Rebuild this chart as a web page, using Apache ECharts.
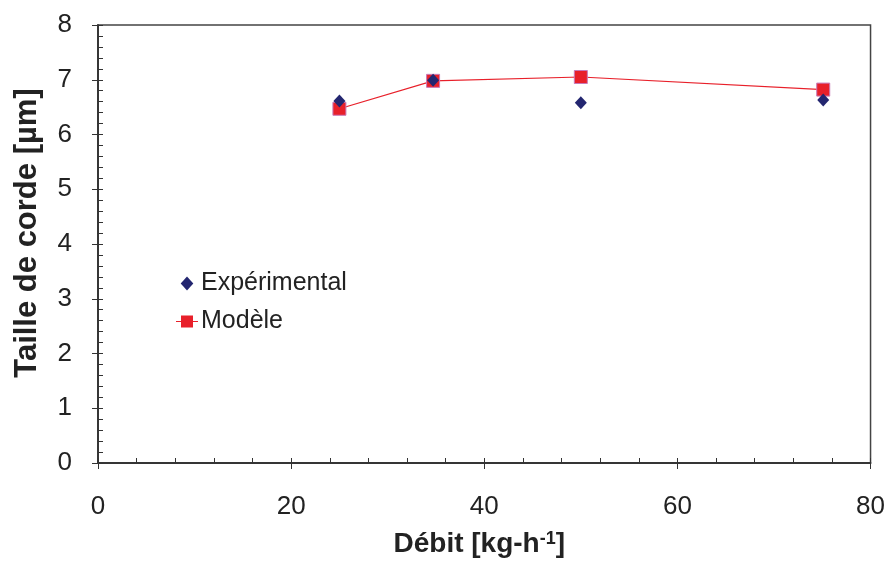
<!DOCTYPE html>
<html><head><meta charset="utf-8">
<script src="https://cdn.jsdelivr.net/npm/echarts@6/dist/echarts.min.js"></script>
<style>html,body{margin:0;padding:0;background:#fff}#c{width:888px;height:563px}</style>
</head><body><div id="c"></div>
<script>
const xExp = [25, 34.7, 50, 75.1];
const yExp = [6.61, 6.99, 6.58, 6.63];
const xMod = [25, 34.7, 50, 75.1];
const yMod = [6.47, 6.98, 7.05, 6.82];
const xTicks = [0, 20, 40, 60, 80];
const yTicks = [0, 1, 2, 3, 4, 5, 6, 7, 8];

const chart = echarts.init(document.getElementById('c'));
const font = 'Liberation Sans, Arial, sans-serif';
const axisCol = '#333';
const baseX = {
  type: 'value', min: 0, max: 80, interval: 20, position: 'bottom',
  axisLine: {lineStyle: {color: axisCol, width: 1.5}},
  splitLine: {show: false}
};
const baseY = {
  type: 'value', min: 0, max: 8, interval: 1, position: 'left',
  axisLine: {lineStyle: {color: axisCol, width: 1.5}},
  splitLine: {show: false}
};
chart.setOption({
  animation: false,
  grid: {left: 98, right: 17, top: 25, bottom: 99, show: true, borderColor: '#444', borderWidth: 1.5, backgroundColor: 'transparent'},
  legend: {
    orient: 'vertical', left: 171, top: 266, itemGap: 13,
    itemWidth: 22, itemHeight: 14,
    textStyle: {fontFamily: font, fontSize: 25, color: '#222', padding: [0, 0, 0, -2]},
    data: [
      {name: 'Expérimental', icon: 'path://M0,-1L0.9,0L0,1L-0.9,0Z', itemStyle: {borderWidth: 0}},
      {name: 'Modèle', icon: 'path://M0,6.4H22V7.6H0Z M5,1H17V13H5Z', itemStyle: {borderWidth: 0}}
    ]
  },
  xAxis: [
    Object.assign({}, baseX, {
      axisTick: {inside: true, length: 5, lineStyle: {color: axisCol}},
      minorTick: {show: true, splitNumber: 5, length: 5, lineStyle: {color: axisCol}},
      axisLabel: {fontFamily: font, fontSize: 26, color: '#222', margin: 31, formatter: v => xTicks.includes(v) ? String(v) : ''},
      name: '{a|Débit [kg-h}{s|-1}{a|]}', nameLocation: 'middle', nameGap: 67,
      nameTextStyle: {padding: [0, 10, 0, 0], rich: {
        a: {fontFamily: font, fontSize: 28, fontWeight: 'bold', color: '#222'},
        s: {fontFamily: font, fontSize: 18, fontWeight: 'bold', color: '#222', verticalAlign: 'top', padding: [0,0,10,0]}
      }}
    }),
    Object.assign({}, baseX, {
      axisTick: {inside: false, length: 6, lineStyle: {color: axisCol}},
      axisLabel: {show: false}
    })
  ],
  yAxis: [
    Object.assign({}, baseY, {
      axisTick: {inside: true, length: 5, lineStyle: {color: axisCol}},
      minorTick: {show: true, splitNumber: 5, length: 5, lineStyle: {color: axisCol}},
      axisLabel: {fontFamily: font, fontSize: 26, color: '#222', margin: 26, formatter: v => yTicks.includes(v) ? String(v) : ''},
      name: 'Taille de corde [µm]', nameLocation: 'middle', nameGap: 55,
      nameTextStyle: {fontFamily: font, fontSize: 31, fontWeight: 'bold', color: '#222', padding: [0, 0, 0, 22]}
    }),
    Object.assign({}, baseY, {
      axisTick: {inside: false, length: 6, lineStyle: {color: axisCol}},
      axisLabel: {show: false}
    })
  ],
  series: [
    {
      name: 'Modèle', type: 'line', z: 2,
      data: xMod.map((x, i) => [x, yMod[i]]),
      symbol: 'rect', symbolSize: 13,
      lineStyle: {color: '#e8202a', width: 1.2},
      itemStyle: {color: '#e8202a', borderColor: '#c77ab8', borderWidth: 1, opacity: 1}
    },
    {
      name: 'Expérimental', type: 'scatter', z: 3,
      data: xExp.map((x, i) => [x, yExp[i]]),
      symbol: 'diamond', symbolSize: [12, 13],
      itemStyle: {color: '#232670', opacity: 1}
    }
  ]
});
</script></body></html>
